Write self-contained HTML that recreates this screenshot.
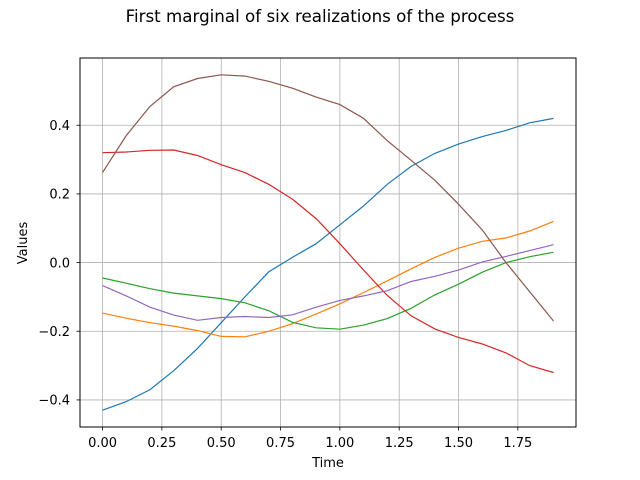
<!DOCTYPE html>
<html><head><meta charset="utf-8"><style>
body{margin:0;background:#fff;}
svg{display:block;font-family:"DejaVu Sans","Liberation Sans",sans-serif;}
</style></head><body>
<svg id="chart" width="640" height="480">
<text x="320" y="22" text-anchor="middle" font-size="16.7">First marginal of six realizations of the process</text>
<g id="grid"></g>
<g id="series"></g>
<rect x="80" y="58" width="496" height="369" fill="none" stroke="#000" stroke-width="1"/>
<g id="ticks"></g>
<text x="328" y="467" text-anchor="middle" font-size="13">Time</text>
<text transform="translate(27,243) rotate(-90)" text-anchor="middle" font-size="13">Values</text>
</svg>
<script>
const times=[0,0.1,0.2,0.3,0.4,0.5,0.6,0.7,0.8,0.9,1.0,1.1,1.2,1.3,1.4,1.5,1.6,1.7,1.8,1.9];
const s1=[-0.43,-0.405,-0.37,-0.315,-0.25,-0.175,-0.10,-0.027,0.015,0.055,0.11,0.165,0.228,0.28,0.318,0.345,0.367,0.385,0.407,0.42];
const s2=[-0.147,-0.162,-0.175,-0.185,-0.198,-0.215,-0.216,-0.20,-0.178,-0.15,-0.12,-0.087,-0.053,-0.018,0.015,0.042,0.062,0.072,0.092,0.12];
const s3=[-0.045,-0.06,-0.076,-0.089,-0.097,-0.105,-0.117,-0.14,-0.174,-0.19,-0.194,-0.182,-0.163,-0.133,-0.094,-0.063,-0.028,0,0.017,0.03];
const s4=[0.32,0.322,0.327,0.328,0.312,0.285,0.262,0.228,0.185,0.128,0.055,-0.022,-0.096,-0.155,-0.193,-0.218,-0.237,-0.263,-0.3,-0.32];
const s5=[-0.067,-0.097,-0.13,-0.153,-0.168,-0.16,-0.157,-0.16,-0.152,-0.13,-0.11,-0.097,-0.082,-0.055,-0.04,-0.022,0.002,0.018,0.035,0.052];
const s6=[0.262,0.37,0.455,0.512,0.536,0.547,0.543,0.528,0.508,0.482,0.46,0.42,0.355,0.298,0.24,0.17,0.095,0.0,-0.085,-0.17];
const xTicks=[0,0.25,0.5,0.75,1.0,1.25,1.5,1.75];
const xTickLabels=["0.00","0.25","0.50","0.75","1.00","1.25","1.50","1.75"];
const yTicks=[-0.4,-0.2,0,0.2,0.4];
const yTickLabels=["−0.4","−0.2","0.0","0.2","0.4"];
const colors=["#1f77b4","#ff7f0e","#2ca02c","#d62728","#9467bd","#8c564b"];
const all=[s1,s2,s3,s4,s5,s6];
const L=80,R=576,T=58,B=427;
let mn=Infinity,mx=-Infinity;all.forEach(s=>s.forEach(v=>{mn=Math.min(mn,v);mx=Math.max(mx,v);}));
const tx0=times[0],tx1=times[times.length-1],dx=(tx1-tx0)*0.05,dy=(mx-mn)*0.05;
const X=t=>L+(t-(tx0-dx))/((tx1+dx)-(tx0-dx))*(R-L);
const Y=v=>B-(v-(mn-dy))/((mx+dy)-(mn-dy))*(B-T);
const NS="http://www.w3.org/2000/svg";
const g=document.getElementById('grid'),tk=document.getElementById('ticks'),sg=document.getElementById('series');
function mk(tag,a,p){const e=document.createElementNS(NS,tag);for(const k in a)e.setAttribute(k,a[k]);p.appendChild(e);return e;}
xTicks.forEach((t,i)=>{const x=X(t);
const gl=mk('line',{x1:x,x2:x,y1:T,y2:B,stroke:'#b0b0b0','stroke-width':0.8},g);

const tl=mk('line',{x1:x,x2:x,y1:B,y2:B+3.5,stroke:'#000','stroke-width':0.8},tk);

const tt=mk('text',{x:x,y:B+20,'text-anchor':'middle','font-size':13},tk);tt.textContent=xTickLabels[i];
});
yTicks.forEach((v,i)=>{const y=Y(v);
const gl=mk('line',{x1:L,x2:R,y1:y,y2:y,stroke:'#b0b0b0','stroke-width':0.8},g);

const tl=mk('line',{x1:L-3.5,x2:L,y1:y,y2:y,stroke:'#000','stroke-width':0.8},tk);

const tt=mk('text',{x:L-10,y:y+4.7,'text-anchor':'end','font-size':13},tk);tt.textContent=yTickLabels[i];
});
all.forEach((s,i)=>{const pts=s.map((v,j)=>X(times[j]).toFixed(1)+','+Y(v).toFixed(1)).join(' ');
const pl=mk('polyline',{points:pts,fill:'none',stroke:colors[i],'stroke-width':1.2},sg);
});
</script>
</body></html>
